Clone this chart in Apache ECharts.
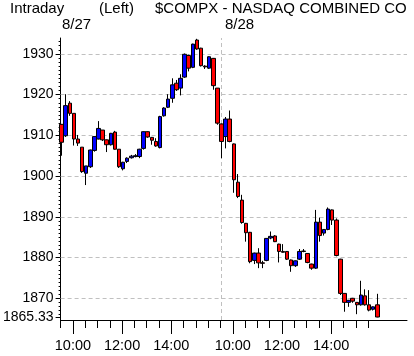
<!DOCTYPE html>
<html><head><meta charset="utf-8">
<script src="https://cdn.jsdelivr.net/npm/echarts@6/dist/echarts.min.js"></script>
<style>html,body{margin:0;padding:0;background:#fff}#c{width:414px;height:356px}</style>
</head><body><div id="c"></div>
<script>
// 10-minute bars, 8/27 (39 bars) then 8/28 (39 bars)
const opens  = [1912.7,1909.9,1917.9,1915.4,1909.1,1907.1,1900.7,1902.3,1906.3,1909.1,1911.3,1908.9,1907.7,1910.8,1906.6,1901.8,1903.6,1904.5,1904.8,1904.8,1906.8,1910.9,1909.5,1908.5,1907.0,1914.8,1916.9,1919.1,1922.8,1921.6,1924.3,1929.6,1926.7,1933.4,1931.4,1927.0,1926.5,1928.9,1921.6,
                1912.8,1909.7,1914.0,1907.9,1898.5,1894.1,1888.4,1886.2,1879.3,1881.1,1878.7,1879.3,1884.8,1885.3,1883.3,1881.5,1881.5,1879.4,1878.0,1879.6,1881.6,1881.0,1878.4,1877.4,1888.7,1886.0,1886.9,1891.7,1889.2,1879.6,1871.2,1869.0,1870.0,1869.0,1868.4,1870.6,1868.4,1867.3,1868.4];
const closes = [1908.3,1917.3,1915.4,1909.1,1908.1,1901.1,1902.5,1906.4,1909.7,1911.7,1908.9,1907.7,1910.5,1906.6,1902.3,1903.4,1904.4,1904.9,1905.0,1906.6,1910.9,1909.6,1908.8,1907.4,1914.6,1916.7,1918.9,1922.4,1921.2,1924.0,1929.9,1926.5,1932.4,1931.2,1927.1,1926.8,1929.3,1922.2,1913.0,
                1908.5,1914.0,1908.5,1899.1,1895.0,1888.6,1886.1,1879.0,1881.1,1878.7,1878.6,1884.7,1885.2,1883.9,1881.5,1881.3,1879.6,1878.0,1879.2,1881.5,1881.5,1878.8,1877.4,1888.7,1885.4,1886.9,1891.9,1889.2,1880.5,1871.2,1869.0,1869.5,1869.3,1868.4,1870.8,1868.4,1867.1,1867.9,1865.4];
const highs  = [1912.8,1920.1,1918.4,1915.4,1910.1,1907.1,1902.5,1906.5,1909.8,1913.5,1911.3,1909.0,1910.6,1911.1,1906.6,1903.5,1904.6,1905.2,1905.4,1906.7,1911.0,1911.0,1909.6,1909.3,1914.8,1916.9,1920.1,1924.0,1923.6,1925.0,1930.1,1929.8,1932.5,1933.7,1931.5,1927.2,1929.4,1929.0,1921.6,
                1912.9,1914.5,1916.1,1908.0,1900.5,1895.4,1888.5,1886.3,1881.2,1882.3,1879.2,1884.8,1886.4,1885.5,1883.4,1883.3,1881.6,1879.5,1879.3,1882.1,1882.1,1881.1,1878.5,1891.7,1889.8,1887.0,1892.3,1891.8,1889.6,1879.7,1871.3,1869.6,1870.1,1869.1,1874.3,1872.2,1872.0,1868.0,1871.1];
const lows   = [1905.0,1909.6,1914.8,1907.5,1907.4,1900.8,1897.8,1902.0,1906.0,1909.0,1908.6,1905.9,1907.5,1906.5,1902.0,1901.4,1903.2,1904.3,1904.6,1904.4,1906.5,1909.4,1907.7,1907.2,1906.8,1914.6,1916.7,1918.0,1920.9,1919.8,1924.1,1925.7,1926.5,1931.0,1926.9,1926.3,1926.3,1921.2,1912.6,
                1904.4,1906.8,1908.3,1895.9,1894.6,1888.3,1883.9,1878.6,1878.4,1877.4,1877.4,1879.1,1884.5,1883.8,1878.8,1881.2,1879.4,1876.5,1877.7,1879.4,1881.3,1878.6,1877.0,1877.2,1883.9,1885.4,1886.7,1888.0,1880.3,1870.8,1866.7,1867.9,1868.9,1866.1,1868.2,1868.2,1866.8,1867.0,1865.33];

const yLabelValues = [1865.33, 1870, 1880, 1890, 1900, 1910, 1920, 1930];
const gridValues = [1870, 1880, 1890, 1900, 1910, 1920, 1930];
const timeTickSlots = [3, 15, 27, 42, 54, 66];
const timeLabels = ['10:00', '12:00', '14:00', '10:00', '12:00', '14:00'];
const dayLabels = ['8/27', '8/28'];
const titleParts = ['Intraday', '(Left)', '$COMPX - NASDAQ COMBINED CO'];

const BARS_PER_DAY = 39;
const SLOT_OFFSET = 0.25;
const Y_MIN = 1864.67, Y_MAX = 1933.9, X_MAX = 84.5;

const candleData = opens.map((o, i) => [i + SLOT_OFFSET, o, closes[i], lows[i], highs[i]]);
const halfHourTicks = [];
for (let s = 0; s <= 75; s += 3) halfHourTicks.push(s);
const minorY = [];
for (let v = 1866; v <= 1933; v++) minorY.push(v);

const FONT = "'Liberation Sans', Arial, sans-serif";
const TFONT = "15px 'Liberation Sans', Arial, sans-serif";
const labelMap = {};
timeTickSlots.forEach((s, i) => labelMap[s] = timeLabels[i]);

const chart = echarts.init(document.getElementById('c'), null, {renderer: 'canvas'});
chart.setOption({
  animation: false,
  backgroundColor: '#fff',
  grid: {left: 59, right: 7, top: 38, bottom: 36, containLabel: false},
  graphic: [
    {type: 'text', left: 10, top: 1, style: {text: titleParts[0], font: TFONT, fill: '#000'}},
    {type: 'text', left: 99, top: 1, style: {text: titleParts[1], font: TFONT, fill: '#000'}},
    {type: 'text', left: 155, top: 1, style: {text: titleParts[2], font: TFONT, fill: '#000'}},
    {type: 'text', left: 62, top: 17, style: {text: dayLabels[0], font: TFONT, fill: '#000'}},
    {type: 'text', left: 225, top: 17, style: {text: dayLabels[1], font: TFONT, fill: '#000'}}
  ],
  xAxis: [
    {type: 'value', min: 0, max: X_MAX, position: 'bottom',
     axisLine: {show: true, lineStyle: {color: '#000', width: 1}},
     axisTick: {show: true, customValues: halfHourTicks, length: 8, lineStyle: {color: '#000', width: 1}},
     axisLabel: {show: false}, splitLine: {show: false}},
    {type: 'value', min: 0, max: X_MAX, position: 'bottom',
     axisLine: {show: false},
     axisTick: {show: true, customValues: timeTickSlots, length: 14, lineStyle: {color: '#000', width: 1}},
     axisLabel: {show: true, customValues: timeTickSlots, formatter: v => labelMap[Math.round(v)] || '',
                 margin: 18, color: '#000', fontSize: 14.5, fontFamily: FONT},
     splitLine: {show: false}}
  ],
  yAxis: [
    {type: 'value', min: Y_MIN, max: Y_MAX, position: 'left',
     axisLine: {show: true, lineStyle: {color: '#000', width: 1}},
     axisTick: {show: true, customValues: yLabelValues, length: 5, lineStyle: {color: '#000'}},
     axisLabel: {show: true, customValues: yLabelValues,
                 formatter: v => (Math.abs(v - Math.round(v)) > 0.001 ? v.toFixed(2) : String(Math.round(v))),
                 margin: 7, color: '#000', fontSize: 14, fontFamily: FONT},
     splitLine: {show: false}},
    {type: 'value', min: Y_MIN, max: Y_MAX, position: 'left',
     axisLine: {show: false},
     axisTick: {show: true, customValues: minorY, length: 2, lineStyle: {color: '#000'}},
     axisLabel: {show: false}, splitLine: {show: false}}
  ],
  series: [{
    type: 'candlestick',
    xAxisIndex: 0, yAxisIndex: 0,
    data: candleData,
    barWidth: 4,
    itemStyle: {color: '#0000ff', color0: '#ff0000', borderColor: '#000', borderColor0: '#000', borderWidth: 1},
    markLine: {
      silent: true, symbol: ['none', 'none'], z: 1,
      label: {show: false},
      lineStyle: {color: '#c0c0c0', type: [4, 3], width: 1},
      data: gridValues.map(v => ({yAxis: v})).concat([{xAxis: BARS_PER_DAY + SLOT_OFFSET}])
    }
  }]
});
</script></body></html>
